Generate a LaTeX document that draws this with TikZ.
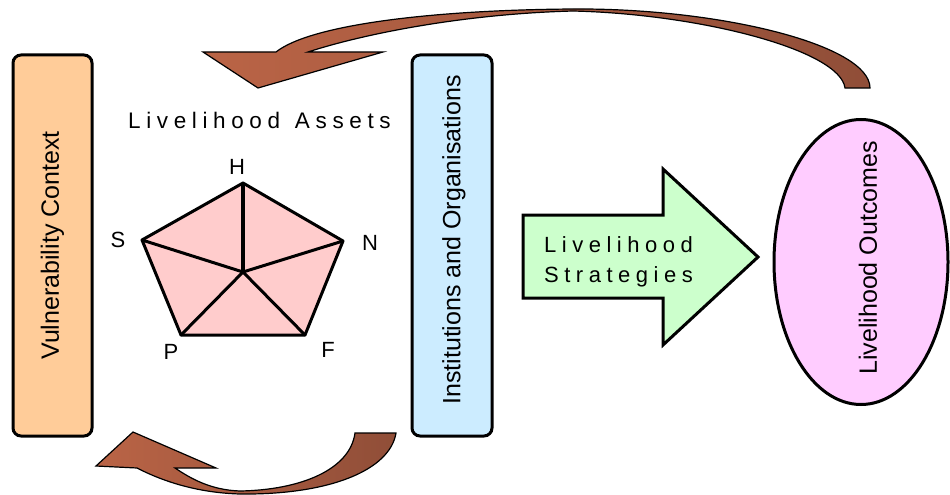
\documentclass[tikz,border=0pt]{standalone}
\usepackage{fontspec}
\setmainfont{Liberation Sans}
\newfontfamily\spaced[LetterSpace=25]{Liberation Sans}
\usetikzlibrary{shapes.geometric}
\definecolor{vcfill}{RGB}{255,204,153}
\definecolor{iofill}{RGB}{204,236,255}
\definecolor{lsfill}{RGB}{204,255,204}
\definecolor{lofill}{RGB}{255,204,255}
\definecolor{pentfill}{RGB}{255,204,204}
\definecolor{arrlight}{RGB}{186,100,70}
\definecolor{arrdark}{RGB}{144,78,56}
\begin{document}
\begin{tikzpicture}[x=1pt,y=-1pt,
  vbox/.style={draw=black, line width=3pt, rounded corners=8pt, rotate=90,
    inner sep=0pt, font=\fontsize{25}{30}\selectfont},
  pentline/.style={line width=3pt, line join=round, line cap=round},
  curvedarr/.style={left color=arrlight, right color=arrdark, draw=black,
    line width=1.2pt, line join=miter},
  lbl/.style={font=\fontsize{22}{26}\selectfont, inner sep=0pt},
  spacedtxt/.style={font=\spaced\fontsize{22}{26}\selectfont, inner sep=0pt, anchor=base west}
]
\useasboundingbox (0,0) rectangle (950,495);

% side boxes
\node[vbox, fill=vcfill, minimum width=381pt, minimum height=79pt] (vc) at (52.5,245.5) {Vulnerability Context};
\node[vbox, fill=iofill, minimum width=381pt, minimum height=80pt] (io) at (452,245.5) {};
\node[rotate=90, inner sep=0pt, font=\fontsize{25}{30}\selectfont] (iotext) at (454,240) {Institutions and Organisations};

% outcomes ellipse
\node[ellipse, draw=black, line width=3pt, fill=lofill, minimum width=174pt, minimum height=285pt, inner sep=0pt] (lo) at (861,262) {};
\node[rotate=90, inner sep=0pt, font=\fontsize{25}{30}\selectfont] (lotext) at (868,258) {Livelihood Outcomes};

% strategies arrow
\coordinate (sa1) at (523,215);
\coordinate (sa2) at (663,215);
\coordinate (sa3) at (663,169);
\coordinate (sa4) at (758,257);
\coordinate (sa5) at (663,345);
\coordinate (sa6) at (663,298);
\coordinate (sa7) at (523,298);
\draw[line width=3pt, fill=lsfill, line join=miter] (sa1) -- (sa2) -- (sa3) -- (sa4) -- (sa5) -- (sa6) -- (sa7) -- cycle;
\node[spacedtxt] (ls1) at (544,252) {Livelihood};
\node[spacedtxt] (ls2) at (544,282) {Strategies};

% assets title
\node[spacedtxt, font=\spaced\fontsize{22.5}{26}\selectfont] (la) at (128,128) {Livelihood\hspace{3pt} Assets};

% pentagon
\coordinate (H) at (243,183);
\coordinate (N) at (343,241);
\coordinate (F) at (305,335);
\coordinate (P) at (181,335);
\coordinate (S) at (142,240);
\coordinate (C) at (243,272);
\draw[pentline, fill=pentfill] (H) -- (N) -- (F) -- (P) -- (S) -- cycle;
\draw[pentline] (C) -- (N);
\draw[pentline] (C) -- (F);
\draw[pentline] (C) -- (P);
\draw[pentline] (C) -- (S);
\draw[line width=4pt] (C) -- (H);
\node[lbl] (lH) at (237,167) {H};
\node[lbl] (lS) at (118,240) {S};
\node[lbl] (lN) at (370,243) {N};
\node[lbl] (lP) at (171,352) {P};
\node[lbl] (lF) at (328,350) {F};

% top curved arrow
\shadedraw[curvedarr]
  (203,52) -- (258,88) -- (383,52) -- (308,52)
  .. controls (360,35) and (460,14) .. (573,11)
  .. controls (700,14) and (840,50) .. (845,88)
  -- (870,88)
  .. controls (870,45) and (720,8) .. (573,9)
  .. controls (430,10) and (310,25) .. (276,52)
  -- cycle;

% bottom curved arrow
\shadedraw[curvedarr]
  (133,432) -- (96,466) -- (137,468)
  .. controls (170,485) and (205,493) .. (240,494)
  .. controls (330,495) and (390,470) .. (396,433)
  -- (355,433)
  .. controls (350,470) and (300,490) .. (240,491)
  .. controls (210,490) and (190,478) .. (175,468)
  -- (216,468) -- cycle;
\end{tikzpicture}
\end{document}
